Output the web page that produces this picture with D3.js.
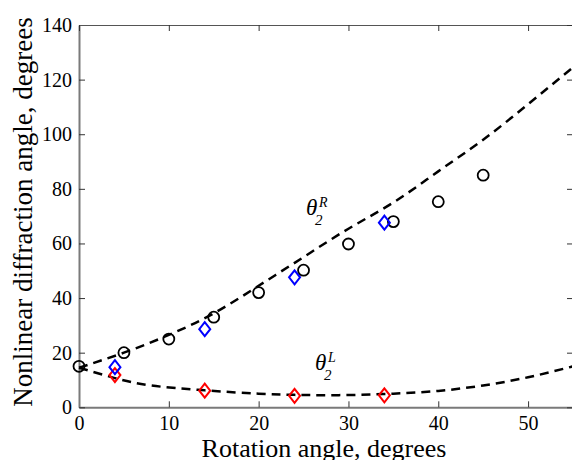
<!DOCTYPE html>
<html lang="en">
<head>
<meta charset="utf-8" />
<title>Nonlinear diffraction angle vs rotation angle</title>
<script src="https://d3js.org/d3.v7.min.js"></script>
<style>
  body { margin: 0; background: #fff; }
  text { font-family: "Liberation Serif", "Times New Roman", serif; fill: #000; }
</style>
</head>
<body>
<div id="chart"></div>
<script>
// experimental points (black circles)
var circleX = [0, 5, 10, 15, 20, 25, 30, 35, 40, 45];
var circleY = [15, 20, 25, 33, 42, 50.2, 59.8, 68, 75.3, 85];
// blue diamonds (theta_2^R)
var blueX = [4, 14, 24, 34];
var blueY = [14.7, 28.6, 47.6, 67.6];
// red diamonds (theta_2^L)
var redX = [4, 14, 24, 34];
var redY = [11.8, 6.1, 4.2, 4.4];
// dashed theory curves
var curveRX = [0, 5, 10, 15, 20, 25, 30, 35, 40, 45, 50, 55];
var curveRY = [14.5, 20, 26.5, 34.4, 44.5, 55, 65.4, 75, 86.4, 98, 111, 124.5];
var curveLX = [0, 4, 8, 14, 20, 25, 30, 35, 40, 45, 50, 55];
var curveLY = [14.5, 10.7, 8.0, 6.2, 5.0, 4.5, 4.5, 5.0, 6.0, 8.0, 11.0, 15.0];
// ticks
var xTicks = [0, 10, 20, 30, 40, 50];
var yTicks = [0, 20, 40, 60, 80, 100, 120, 140];

var width = 572, height = 460;
var padL = 79, padR = 573, padT = 25, padB = 407.3;

var svg = d3.select("#chart").append("svg")
  .attr("width", width)
  .attr("height", height);

var xScale = d3.scaleLinear().domain([0, 55]).range([padL, padR]);
var yScale = d3.scaleLinear().domain([0, 140]).range([padB, padT]);

// axes, ticks pointing inward
var xAxis = d3.axisBottom(xScale).tickValues(xTicks).tickSizeInner(-6).tickSizeOuter(0).tickPadding(9);
var yAxis = d3.axisLeft(yScale).tickValues(yTicks).tickSizeInner(-6).tickSizeOuter(0).tickPadding(7);
var xTop = d3.axisTop(xScale).tickValues(xTicks).tickSizeInner(-6).tickSizeOuter(0).tickFormat("");
var yRight = d3.axisRight(yScale).tickValues(yTicks).tickSizeInner(-6).tickSizeOuter(0).tickFormat("");

function styleAxis(g, col, w) {
  g.select(".domain").attr("stroke", col).attr("stroke-width", w);
  g.selectAll(".tick line").attr("stroke", "#333").attr("stroke-width", 1);
  g.selectAll(".tick text").attr("font-size", 20).attr("fill", "#000");
}

svg.append("g").attr("transform", "translate(0," + padB + ")").call(xAxis).call(styleAxis, "#7a7a7a", 2);
svg.append("g").attr("transform", "translate(" + padL + ",0)").call(yAxis).call(styleAxis, "#7a7a7a", 2);
svg.append("g").attr("transform", "translate(0," + padT + ")").call(xTop).call(styleAxis, "#555", 1.2);
svg.append("g").attr("transform", "translate(" + padR + ",0)").call(yRight).call(styleAxis, "#555", 1.2);

// dashed curves
var line = d3.line()
  .x(function(d) { return xScale(d[0]); })
  .y(function(d) { return yScale(d[1]); })
  .curve(d3.curveNatural);

svg.append("path")
  .datum(d3.zip(curveRX, curveRY))
  .attr("d", line)
  .attr("fill", "none")
  .attr("stroke", "#000")
  .attr("stroke-width", 2.5)
  .attr("stroke-dasharray", "9,6");

svg.append("path")
  .datum(d3.zip(curveLX, curveLY))
  .attr("d", line)
  .attr("fill", "none")
  .attr("stroke", "#000")
  .attr("stroke-width", 2.5)
  .attr("stroke-dasharray", "9,6");

// black circles
svg.selectAll(".circ")
  .data(d3.zip(circleX, circleY))
  .enter().append("circle")
  .attr("class", "circ")
  .attr("cx", function(d) { return xScale(d[0]); })
  .attr("cy", function(d) { return yScale(d[1]); })
  .attr("r", 5.5)
  .attr("fill", "none")
  .attr("stroke", "#000")
  .attr("stroke-width", 1.8);

// diamonds
function diamonds(xs, ys, col, cls) {
  svg.selectAll("." + cls)
    .data(d3.zip(xs, ys))
    .enter().append("path")
    .attr("class", cls)
    .attr("transform", function(d) { return "translate(" + xScale(d[0]) + "," + yScale(d[1]) + ")"; })
    .attr("d", "M0,-7L5.5,0L0,7L-5.5,0Z")
    .attr("fill", "none")
    .attr("stroke", col)
    .attr("stroke-width", 2);
}
diamonds(redX, redY, "#ff0000", "red");
diamonds(blueX, blueY, "#0000ff", "blue");

// curve labels
function thetaLabel(x, y, sup) {
  var g = svg.append("g").attr("transform", "translate(" + x + "," + y + ")");
  g.append("text").attr("font-size", 23).attr("font-style", "italic").text("\u03B8");
  g.append("text").attr("x", 13).attr("y", -8).attr("font-size", 14).attr("font-style", "italic").text(sup);
  g.append("text").attr("x", 9).attr("y", 10).attr("font-size", 15).attr("font-style", "italic").text("2");
}
thetaLabel(306, 215, "R");
thetaLabel(315, 370, "L");

// axis titles
svg.append("text")
  .attr("x", 324)
  .attr("y", 457)
  .attr("text-anchor", "middle")
  .attr("font-size", 26)
  .text("Rotation angle, degrees");

svg.append("text")
  .attr("transform", "translate(32,212) rotate(-90)")
  .attr("text-anchor", "middle")
  .attr("font-size", 27)
  .text("Nonlinear diffraction angle, degrees");
</script>
</body>
</html>
